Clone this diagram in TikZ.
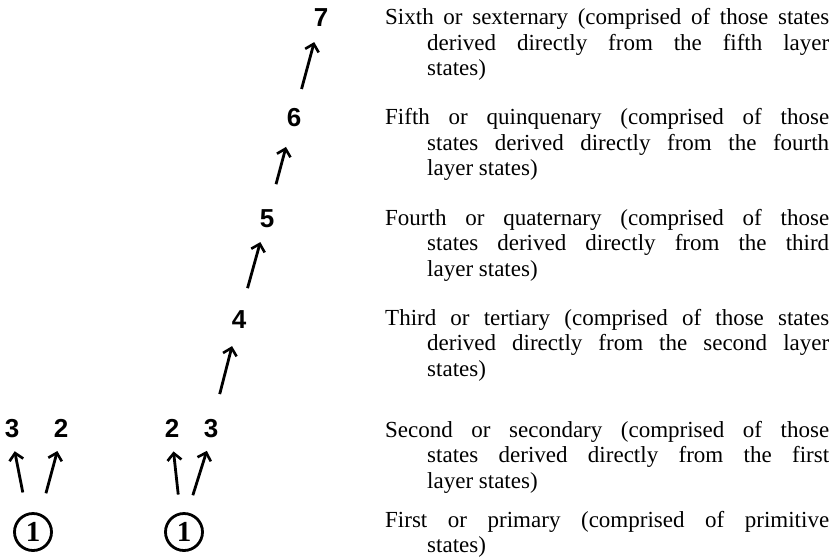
\documentclass[tikz,border=0pt]{standalone}
\usepackage{fontspec}
\setmainfont{Liberation Serif}
\newfontfamily\numfont{Liberation Sans}
\usetikzlibrary{arrows.meta}

\newcommand{\layerpar}[1]{\parbox[t]{444pt}{\hangindent=42pt\hangafter=1 #1}}

\tikzset{
	layernum/.style={font=\numfont\bfseries\fontsize{26}{26}\selectfont, inner sep=0pt, text height=18.6pt, text depth=0pt},
	primcirc/.style={draw, circle, line width=2.8pt, minimum size=37pt, inner sep=0pt, font=\bfseries\fontsize{29}{29}\selectfont},
	layertext/.style={anchor=base west, inner sep=0pt, font=\fontsize{23}{25.5}\selectfont},
	derive/.style={line width=2.8pt, -{Straight Barb[length=7pt, width=14pt, line width=2.6pt]}}
}

\begin{document}
\begin{tikzpicture}[x=1pt, y=-1pt]
		\useasboundingbox (0,0) rectangle (839,558);
		% Primitive states and their layers:
		\node[primcirc] (c1) at (33, 532){1};
		\node[primcirc] (c2) at (184, 532){1};
		\node[layernum] (a3) at (12, 428){3};
		\node[layernum] (a2) at (61, 428){2};
		\node[layernum] (b2) at (172, 428){2};
		\node[layernum] (b3) at (211, 428){3};
		\node[layernum] (n4) at (239, 319){4};
		\node[layernum] (n5) at (267, 218){5};
		\node[layernum] (n6) at (294, 117){6};
		\node[layernum] (n7) at (321, 17){7};
		% Arrows:
		\draw[derive, shorten <=21pt, shorten >=14pt] (c1.108) -- (a3.south);
		\draw[derive, shorten <=21pt, shorten >=14pt] (c1.68) -- (a2.south);
		\draw[derive, shorten <=18pt, shorten >=14pt] (c2.101) -- (b2.south);
		\draw[derive, shorten <=18pt, shorten >=14pt] (c2.80) -- (b3.south);
		\draw[derive, shorten <=35pt, shorten >=28pt] (b3.center) -- (n4.center);
		\draw[derive, shorten <=32pt, shorten >=25pt] (n4.center) -- (n5.center);
		\draw[derive, shorten <=35pt, shorten >=31pt] (n5.center) -- (n6.center);
		\draw[derive, shorten <=29pt, shorten >=26pt] (n6.center) -- (n7.center);
		% Layer descriptions:
		\node[layertext] (t6) at (385, 24.5){\layerpar{Sixth or sexternary (comprised of those states\linebreak derived directly from the fifth layer\linebreak states)}};
		\node[layertext] (t5) at (385, 124.5){\layerpar{Fifth or quinquenary (comprised of those\linebreak states derived directly from the fourth\linebreak layer states)}};
		\node[layertext] (t4) at (385, 225){\layerpar{Fourth or quaternary (comprised of those\linebreak states derived directly from the third\linebreak layer states)}};
		\node[layertext] (t3) at (385, 325){\layerpar{Third or tertiary (comprised of those states\linebreak derived directly from the second layer\linebreak states)}};
		\node[layertext] (t2) at (385, 437){\layerpar{Second or secondary (comprised of those\linebreak states derived directly from the first\linebreak layer states)}};
		\node[layertext] (t1) at (385, 527){\layerpar{First or primary (comprised of primitive\linebreak states)}};
	\end{tikzpicture}
\end{document}
